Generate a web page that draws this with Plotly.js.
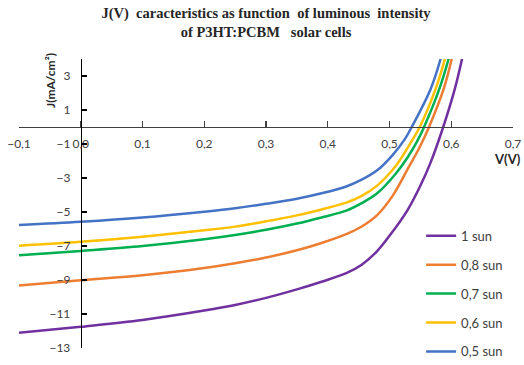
<!DOCTYPE html>
<html>
<head>
<meta charset="utf-8">
<script src="https://cdn.plot.ly/plotly-3.0.1.min.js"></script>
<style>html,body{margin:0;padding:0;background:#fff;}#chart{width:524px;height:365px;}</style>
</head>
<body>
<div id="chart"></div>
<script>
// Series names
const seriesNames = ["1 sun", "0,8 sun", "0,7 sun", "0,6 sun", "0,5 sun"];
// Voltage (V) and current density J (mA/cm²) for each illumination
const v1sun  = [-0.1, 0, 0.1, 0.2, 0.25, 0.3, 0.35, 0.39, 0.43, 0.455, 0.48, 0.5, 0.529, 0.55, 0.566, 0.587, 0.606, 0.618];
const j1sun  = [-12.1, -11.75, -11.35, -10.8, -10.47, -10.05, -9.55, -9.1, -8.6, -8.1, -7.3, -6.4, -4.9, -3.45, -2.14, 0, 2.27, 4.1];
const v08sun = [-0.1, 0, 0.1, 0.2, 0.25, 0.3, 0.35, 0.39, 0.43, 0.455, 0.48, 0.505, 0.532, 0.548, 0.564, 0.588, 0.601];
const j08sun = [-9.33, -9.02, -8.72, -8.3, -8.02, -7.68, -7.25, -6.82, -6.3, -5.85, -5.18, -4.05, -2.3, -1.25, 0, 2.27, 4.04];
const v07sun = [-0.1, 0, 0.1, 0.2, 0.25, 0.3, 0.35, 0.39, 0.43, 0.455, 0.48, 0.51, 0.53, 0.546, 0.556, 0.581, 0.596];
const j07sun = [-7.55, -7.29, -7.0, -6.6, -6.35, -6.05, -5.68, -5.32, -4.92, -4.48, -3.9, -2.75, -1.75, -0.76, 0, 2.27, 4.04];
const v06sun = [-0.1, 0, 0.1, 0.2, 0.25, 0.3, 0.35, 0.39, 0.43, 0.455, 0.48, 0.51, 0.537, 0.549, 0.575, 0.59];
const j06sun = [-6.98, -6.75, -6.45, -6.08, -5.86, -5.55, -5.2, -4.85, -4.45, -4.05, -3.45, -2.3, -0.76, 0, 2.27, 4.04];
const v05sun = [-0.1, 0, 0.1, 0.2, 0.25, 0.3, 0.35, 0.39, 0.43, 0.455, 0.48, 0.505, 0.524, 0.536, 0.567, 0.583];
const j05sun = [-5.76, -5.57, -5.32, -4.98, -4.78, -4.52, -4.22, -3.9, -3.5, -3.1, -2.55, -1.65, -0.76, 0, 2.27, 4.04];
// Axis ticks
const yTickVals = [-13, -11, -9, -7, -5, -3, -1, 1, 3];
const xTickVals = [-0.1, 0, 0.1, 0.2, 0.3, 0.4, 0.5, 0.6, 0.7];

const colors = ["#7030A0", "#ED7D31", "#00B050", "#FFC000", "#4472C4"];
const xs = [v1sun, v08sun, v07sun, v06sun, v05sun];
const ys = [j1sun, j08sun, j07sun, j06sun, j05sun];

const traces = seriesNames.map((n, i) => ({
  type: "scatter", mode: "lines", name: n, x: xs[i], y: ys[i],
  legendgroup: "g" + i,
  line: {color: colors[i], width: 2.5, shape: "spline", smoothing: 1}
}));

const xmin = -0.1, xmax = 0.7, ymin = -13, ymax = 4;
const layout = {
  width: 524, height: 365,
  margin: {l: 19, r: 11, t: 59, b: 17, autoexpand: false},
  paper_bgcolor: "#fff", plot_bgcolor: "#fff",
  separators: ", ",
  font: {family: "Lato, 'Open Sans', sans-serif", size: 12, color: "#404040"},
  showlegend: true,
  title: {
    text: "J(V)  caracteristics as function  of luminous  intensity<br>of P3HT:PCBM   solar cells",
    font: {family: "'Liberation Serif', 'Times New Roman', serif", size: 14.5, color: "#262626", weight: "bold"},
    x: 0.5, xanchor: "center", xref: "paper", y: 0.951, yref: "container", yanchor: "top"
  },
  xaxis: {
    range: [xmin, xmax], tickvals: xTickVals, tickformat: ".1f",
    showgrid: false, zeroline: false, showline: true, linecolor: "#404040", linewidth: 1.3,
    ticks: "inside", ticklen: 6, tickcolor: "#404040", tickwidth: 1.3,
    anchor: "free", position: (0 - ymin) / (ymax - ymin),
    ticklabelstandoff: 5,
    tickfont: {size: 12, color: "#404040"}
  },
  yaxis: {
    range: [ymin, ymax], tickvals: yTickVals,
    showgrid: false, zeroline: false, showline: true, linecolor: "#000", linewidth: 1.3,
    ticks: "inside", ticklen: 5, tickcolor: "#000", tickwidth: 1.3,
    anchor: "free", position: (0 - xmin) / (xmax - xmin),
    ticklabelstandoff: 8,
    tickfont: {size: 12, color: "#404040"}
  },
  legend: {
    x: 0.814, xanchor: "left", y: 0.44, yanchor: "top",
    tracegroupgap: 9, bgcolor: "rgba(0,0,0,0)",
    font: {size: 13, color: "#404040"}
  },
  annotations: [
    {text: "J(mA/cm²)", xref: "paper", yref: "paper", x: (50 - 19) / 494, y: 1 - (81 - 59) / 289,
     textangle: -90, showarrow: false, xanchor: "center", yanchor: "middle",
     font: {size: 12, color: "#262626", weight: "bold"}},
    {text: "V(V)", xref: "paper", yref: "paper", x: (523 - 19) / 494, y: 1 - (159 - 59) / 289,
     showarrow: false, xanchor: "right", yanchor: "middle",
     font: {size: 13, color: "#262626", weight: "bold"}}
  ]
};

Plotly.newPlot("chart", traces, layout, {displayModeBar: false, staticPlot: true});
</script>
</body>
</html>
